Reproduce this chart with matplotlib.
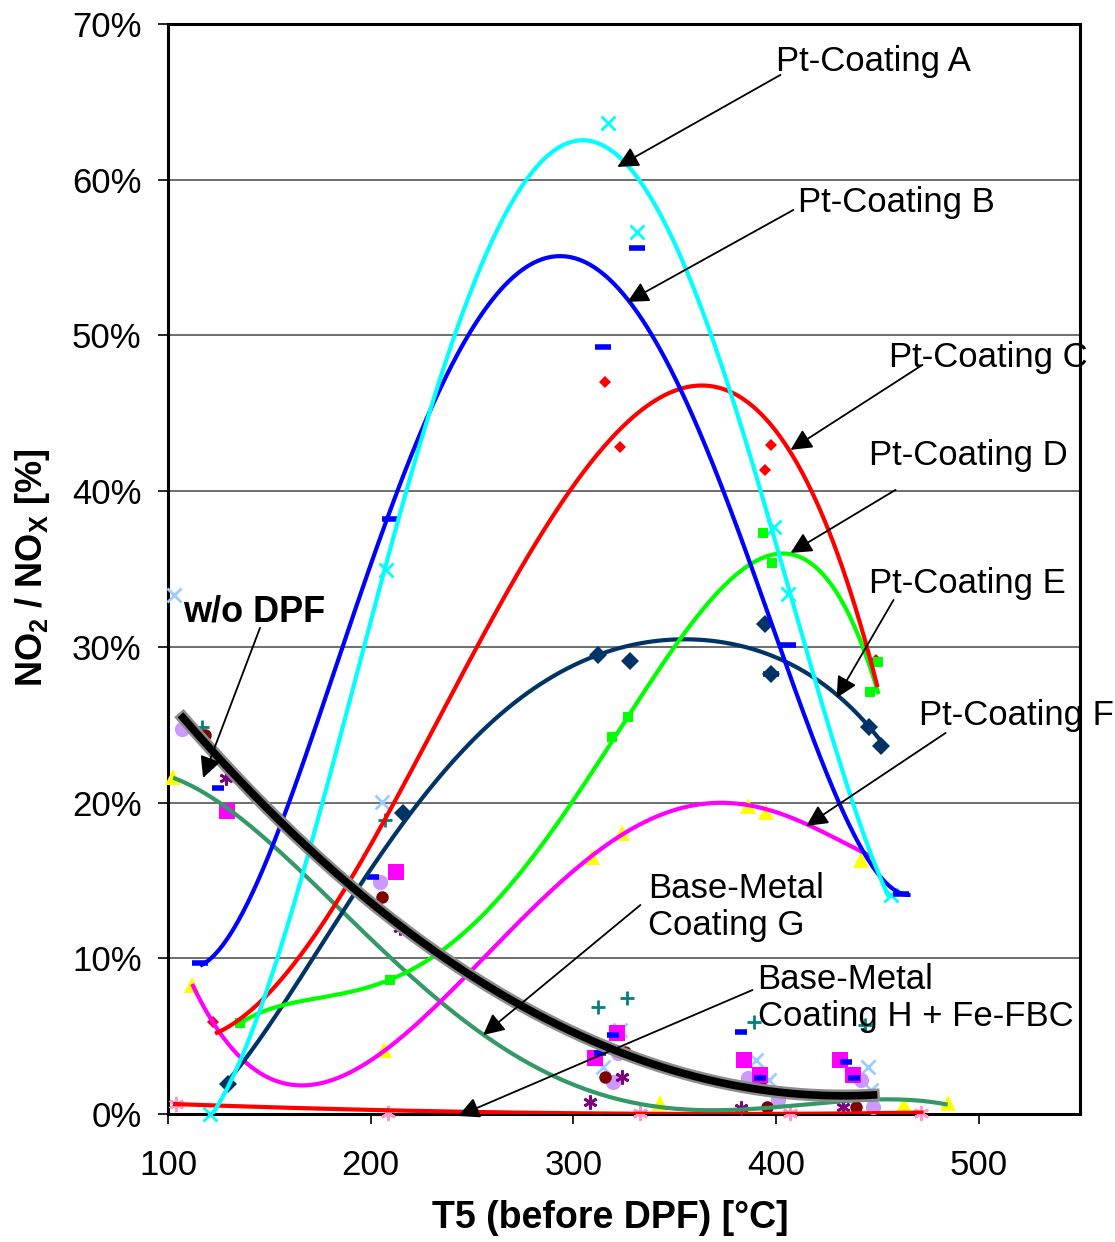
import matplotlib

matplotlib.use("Agg")
import matplotlib.pyplot as plt
from matplotlib.ticker import FuncFormatter
import matplotlib.patheffects as pe
import numpy as np

plt.rcParams["font.family"] = ["Liberation Sans", "DejaVu Sans"]
plt.rcParams["mathtext.fontset"] = "custom"
plt.rcParams["mathtext.rm"] = "Liberation Sans"
plt.rcParams["mathtext.bf"] = "Liberation Sans:bold"

# ── trendlines: temperature T5 [°C] vs NO2/NOx [%] ────────────────────────
a_t = [120.7, 129.1, 139.0, 146.9, 155.3, 161.7, 168.6, 175.1, 181.5, 188.4, 193.8,
       209.6, 219.5, 230.9, 242.7, 254.1, 268.9, 278.8, 290.1, 303.4, 316.8, 326.7,
       334.6, 342.9, 353.3, 366.2, 376.0, 385.9, 393.8, 405.6, 417.0, 425.4, 438.3,
       446.7, 455.6]
a_y = [-0.2, 1.54, 4.30, 7.32, 10.73, 13.75, 16.51, 19.53, 22.55, 25.31, 27.88,
       36.68, 40.91, 45.67, 50.81, 54.85, 58.26, 60.44, 61.72, 62.24, 61.79, 60.63,
       59.80, 57.87, 54.85, 51.0, 47.15, 42.84, 39.44, 33.98, 28.52, 25.31, 19.72,
       16.96, 13.87]

b_t = [115.8, 120.7, 129.1, 137.0, 145.4, 151.8, 158.8, 165.2, 173.6, 188.4, 203.2,
       211.1, 221.0, 232.8, 244.2, 252.6, 265.4, 277.3, 293.6, 308.4, 321.7, 333.1,
       347.9, 359.3, 371.1, 382.5, 394.8, 405.7, 415.5, 425.4, 435.3, 445.2, 453.1,
       461.5, 466.4]
b_y = [9.70, 10.08, 10.98, 12.46, 15.03, 17.60, 19.72, 22.54, 25.76, 29.80, 36.68,
       39.44, 42.65, 46.05, 49.07, 50.81, 53.12, 54.40, 55.05, 54.66, 53.37, 51.0,
       48.24, 44.58, 40.72, 37.06, 31.86, 28.97, 25.50, 21.90, 18.69, 16.31, 14.84,
       14.19, 14.13]

c_t = [123.2, 137.0, 145.4, 153.8, 161.7, 170.1, 178.5, 188.4, 198.3, 211.1, 224.4,
       235.8, 255.5, 282.7, 302.0, 309.9, 326.7, 343.0, 361.2, 376.0, 388.9, 400.7,
       408.6, 417.0, 428.4, 440.2, 446.7, 450.1]
c_y = [5.40, 6.04, 6.87, 8.16, 9.70, 11.18, 12.91, 14.58, 17.15, 19.98, 23.19,
       25.95, 29.80, 36.74, 41.17, 42.46, 44.77, 46.0, 46.3, 46.1, 45.3, 43.8,
       42.46, 40.27, 36.87, 31.73, 29.16, 27.43]

d_t = [135.6, 145.4, 161.7, 178.5, 194.8, 209.6, 224.4, 235.8, 244.2, 259.0, 273.8,
       285.2, 302.0, 313.3, 326.7, 346.4, 362.7, 379.0, 392.3, 402.2, 415.5, 425.4,
       433.3, 441.7, 448.1, 450.6]
d_y = [5.84, 6.49, 7.13, 7.52, 8.09, 8.61, 9.44, 10.73, 11.50, 12.97, 15.35,
       17.60, 20.62, 22.93, 25.50, 29.16, 31.92, 34.49, 35.78, 36.23, 35.58, 34.30,
       32.56, 30.25, 27.88, 27.23]

e_t = [127.2, 139.0, 150.4, 161.7, 173.6, 184.9, 196.3, 207.2, 221.0, 244.2, 267.4,
       288.6, 311.8, 333.1, 359.3, 379.0, 395.8, 412.1, 425.4, 438.3, 446.7, 452.6]
e_y = [1.67, 3.66, 6.04, 8.16, 10.34, 12.46, 14.58, 17.21, 19.98, 23.19, 25.95,
       27.88, 29.48, 30.25, 30.57, 30.12, 29.48, 28.52, 27.43, 25.95, 24.86, 23.70]

f_t = [111.9, 117.3, 125.7, 137.0, 148.9, 165.2, 181.5, 198.3, 214.6, 230.9, 244.2,
       263.9, 283.7, 301.0, 313.3, 323.2, 338.0, 354.3, 372.6, 387.4, 398.8, 415.5,
       428.4, 438.3, 446.7]
f_y = [8.41, 6.87, 5.20, 3.47, 2.38, 1.86, 2.18, 3.28, 4.75, 6.87, 8.80,
       10.85, 13.42, 15.80, 16.96, 18.05, 19.08, 19.65, 19.85, 19.72, 19.40, 18.69,
       17.79, 17.15, 16.51]

g_t = [102.5, 120.7, 139.0, 153.8, 168.6, 183.5, 198.3, 211.1, 227.9, 244.2, 263.9,
       278.8, 293.6, 309.9, 326.7, 343.0, 359.3, 376.0, 392.3, 408.6, 425.4, 441.7,
       458.0, 474.8, 484.7]
g_y = [21.65, 20.17, 18.69, 17.15, 15.48, 13.30, 11.37, 9.70, 7.77, 6.04, 4.43,
       3.28, 2.38, 1.54, 0.90, 0.45, 0.19, 0.13, 0.19, 0.45, 0.77, 1.03,
       1.09, 0.77, 0.51]

h_t = [102.5, 140.0, 170.0, 205.0, 244.2, 300.0, 350.0, 400.0, 472.8]
h_y = [0.64, 0.50, 0.36, 0.22, 0.10, 0.05, 0.03, 0.04, 0.06]

wo_t = [107.4, 129.1, 153.8, 178.5, 203.2, 227.9, 244.2, 268.9, 293.6, 309.9, 326.7,
        343.0, 359.3, 376.0, 392.3, 408.6, 425.4, 448.1]
wo_y = [25.50, 22.29, 18.88, 15.86, 13.30, 10.98, 9.44, 7.32, 5.59, 4.56, 3.66,
        3.02, 2.50, 1.99, 1.54, 1.35, 1.22, 1.16]

# ── measured points ───────────────────────────────────────────────────────
a_pt_t = [120.7, 207.7, 317.3, 331.6, 398.8, 405.7, 456.6]
a_pt_y = [0.0, 34.94, 63.65, 56.65, 37.70, 33.40, 14.07]
b_pt_t = [115.8, 209.6, 314.8, 331.6, 397.3, 405.7, 461.5]
b_pt_y = [9.70, 38.22, 49.26, 55.62, 28.26, 30.12, 14.13]
c_pt_t = [122.2, 315.8, 323.2, 394.8, 397.3, 449.1]
c_pt_y = [5.91, 47.02, 42.84, 41.36, 42.97, 29.16]
d_pt_t = [135.6, 209.6, 319.2, 327.1, 393.8, 397.8, 446.2, 450.1]
d_pt_y = [5.84, 8.61, 24.21, 25.50, 37.32, 35.39, 27.10, 29.03]
e_pt_t = [129.6, 216.0, 312.3, 328.1, 394.8, 397.3, 445.7, 451.6]
e_pt_y = [1.93, 19.33, 29.48, 29.10, 31.47, 28.26, 24.86, 23.64]
f_pt_t = [102.5, 111.9, 206.7, 309.4, 324.2, 343.0, 386.4, 395.3, 441.7, 463.0, 484.7]
f_pt_y = [21.65, 8.29, 4.11, 16.51, 18.05, 0.71, 19.78, 19.40, 16.31, 0.58, 0.71]

# w/o DPF and base-metal runs
lblue_t = [103.0, 205.7, 323.2, 314.8, 389.9, 396.3, 445.2, 446.7]
lblue_y = [33.33, 20.04, 5.40, 3.02, 3.47, 2.18, 3.02, 1.54]
teal_t = [116.8, 207.2, 312.3, 326.7, 388.9, 443.7]
teal_y = [24.86, 18.88, 6.87, 7.45, 5.91, 5.72]
lav_t = [106.9, 204.7, 319.7, 322.2, 386.4, 401.2, 441.7, 448.1]
lav_y = [24.73, 14.90, 2.06, 3.92, 2.31, 0.90, 2.18, 0.45]
dred_t = [118.3, 205.7, 315.8, 325.7, 392.3, 395.8, 439.3]
dred_y = [24.34, 13.94, 2.38, 3.98, 1.86, 0.45, 0.45]
purp_t = [128.6, 214.6, 324.2, 308.4, 382.5, 433.3]
purp_y = [21.58, 11.95, 2.38, 0.77, 0.39, 0.45]
mag_t = [129.1, 212.6, 321.7, 310.9, 384.0, 392.3, 431.8, 437.8]
mag_y = [19.46, 15.54, 5.20, 3.60, 3.47, 2.50, 3.47, 2.50]
dash_t = [124.7, 201.2, 319.7, 313.3, 382.5, 392.3, 434.3, 438.3]
dash_y = [20.94, 15.2, 5.07, 3.92, 5.27, 2.31, 3.34, 2.31]
pink_t = [104.0, 208.6, 333.1, 407.1, 471.4]
pink_y = [0.64, 0.06, 0.06, 0.06, 0.06]

# ── annotation labels: (text, text pos, arrow tail, arrow tip) ────────────
labels = [
    ("Pt-Coating A", (400.2, 67.57), (402.2, 66.73), (321.7, 60.82)),
    ("Pt-Coating B", (411.1, 58.51), (408.6, 58.06), (326.7, 52.15)),
    ("Pt-Coating C", (455.6, 48.56), (472.3, 48.11), (407.2, 42.65)),
    ("Pt-Coating D", (445.7, 42.27), (459.0, 40.08), (407.2, 36.03)),
    ("Pt-Coating E", (445.7, 34.04), (458.0, 33.01), (429.9, 26.72)),
    ("Pt-Coating F", (470.4, 25.56), (483.7, 24.47), (415.0, 18.50)),
    ("Base-Metal\nCoating G", (337.0, 13.30), (333.1, 13.42), (255.5, 5.07)),
    ("Base-Metal\nCoating H + Fe-FBC", (390.9, 7.45), (388.4, 7.96), (243.2, -0.13)),
]


def trend(t, y, deg):
    """Polynomial trendline through the traced curve, sampled finely."""
    coef = np.polyfit(t, y, deg)
    tt = np.linspace(t[0], t[-1], 300)
    return tt, np.polyval(coef, tt)


fig = plt.figure(figsize=(11.15, 12.42), dpi=100)
ax = fig.add_axes([0.1507, 0.1031, 0.8179, 0.8776])
ax.set_xlim(100, 550)
ax.set_ylim(0, 70)
ax.set_xticks([100, 200, 300, 400, 500])
ax.set_yticks(range(0, 71, 10))
ax.yaxis.set_major_formatter(FuncFormatter(lambda v, _: f"{v:.0f}%"))
ax.grid(axis="y", color="#6e6e6e", lw=1.4, zorder=0)
ax.tick_params(direction="out", length=7, width=1.2, labelsize=25, pad=12)
ax.tick_params(axis="x", pad=18)
for s in ax.spines.values():
    s.set_linewidth(2.2)

# scatter markers
pts = dict(ls="none", zorder=3, clip_on=False)
ax.plot(a_pt_t, a_pt_y, "x", color="#00ffff", ms=10, mew=2, **pts)
ax.plot(b_pt_t, b_pt_y, "_", color="#0000ff", ms=12, mew=4, **pts)
ax.plot(c_pt_t, c_pt_y, "D", color="#ff0000", ms=6, mew=0, **pts)
ax.plot(d_pt_t, d_pt_y, "s", color="#00ff00", ms=7, mew=0, **pts)
ax.plot(e_pt_t, e_pt_y, "D", color="#003366", ms=9, mew=0, **pts)
ax.plot(f_pt_t, f_pt_y, "^", color="#ffff00", ms=11, mew=0, **pts)
ax.plot(lblue_t, lblue_y, "x", color="#99ccff", ms=10, mew=2, **pts)
ax.plot(teal_t, teal_y, "+", color="#008080", ms=10, mew=2, **pts)
ax.plot(lav_t, lav_y, "o", color="#cc99ff", ms=11, mew=0, **pts)
ax.plot(dred_t, dred_y, "o", color="#800000", ms=9, mew=0, **pts)
ax.plot(purp_t, purp_y, marker=(6, 2, 0), color="#800080", ms=10, mew=2, **pts)
ax.plot(mag_t, mag_y, "s", color="#ff00ff", ms=11, mew=0, **pts)
ax.plot(dash_t, dash_y, "_", color="#0000ff", ms=9, mew=4, **pts)
ax.plot(pink_t, pink_y, marker=(6, 2, 0), color="#ff99cc", ms=11, mew=2, **pts)

# trendlines
line = dict(lw=3, solid_capstyle="butt", zorder=4)
ax.plot(*trend(h_t, h_y, 2), color="#ff0000", **line)
ax.plot(*trend(g_t, g_y, 5), color="#339966", **line)
ax.plot(*trend(f_t, f_y, 6), color="#ff00ff", **line)
ax.plot(*trend(e_t, e_y, 5), color="#003366", **line)
ax.plot(*trend(d_t, d_y, 6), color="#00ff00", **line)
ax.plot(*trend(c_t, c_y, 6), color="#ff0000", **line)
ax.plot(*trend(b_t, b_y, 6), color="#0000ff", **line)
ax.plot(*trend(a_t, a_y, 6), color="#00ffff", **line)
ax.plot(*trend(wo_t, wo_y, 4), color="black", lw=5.5, zorder=5,
        path_effects=[pe.Stroke(linewidth=9, foreground="#8c8c8c"), pe.Normal()])

for text, pos, tail, tip in labels:
    ax.annotate("", xy=tip, xytext=tail, zorder=6, annotation_clip=False,
                arrowprops=dict(arrowstyle="-|>", color="black", lw=1.3,
                                mutation_scale=32, shrinkA=0, shrinkB=0))
    ax.text(pos[0], pos[1], text, fontsize=25, ha="left", va="center",
            linespacing=1.15, zorder=7, clip_on=False)

ax.annotate("", xy=(117.3, 21.58), xytext=(145.4, 31.22), zorder=6,
            arrowprops=dict(arrowstyle="-|>", color="black", lw=1.3,
                            mutation_scale=32, shrinkA=0, shrinkB=0))
ax.text(107.4, 32.24, "w/o DPF", fontsize=26, fontweight="bold",
        ha="left", va="center", zorder=7)

fig.text(0.547, 0.019, "T5 (before DPF) [°C]", fontsize=27, fontweight="bold",
         ha="center", va="center")
fig.text(0.029, 0.543, r"NO$_\mathbf{2}$ / NO$_\mathbf{X}$ [%]", fontsize=26,
         fontweight="bold", rotation=90, ha="center", va="center")

fig.savefig("out.png", dpi=100, facecolor="white")
